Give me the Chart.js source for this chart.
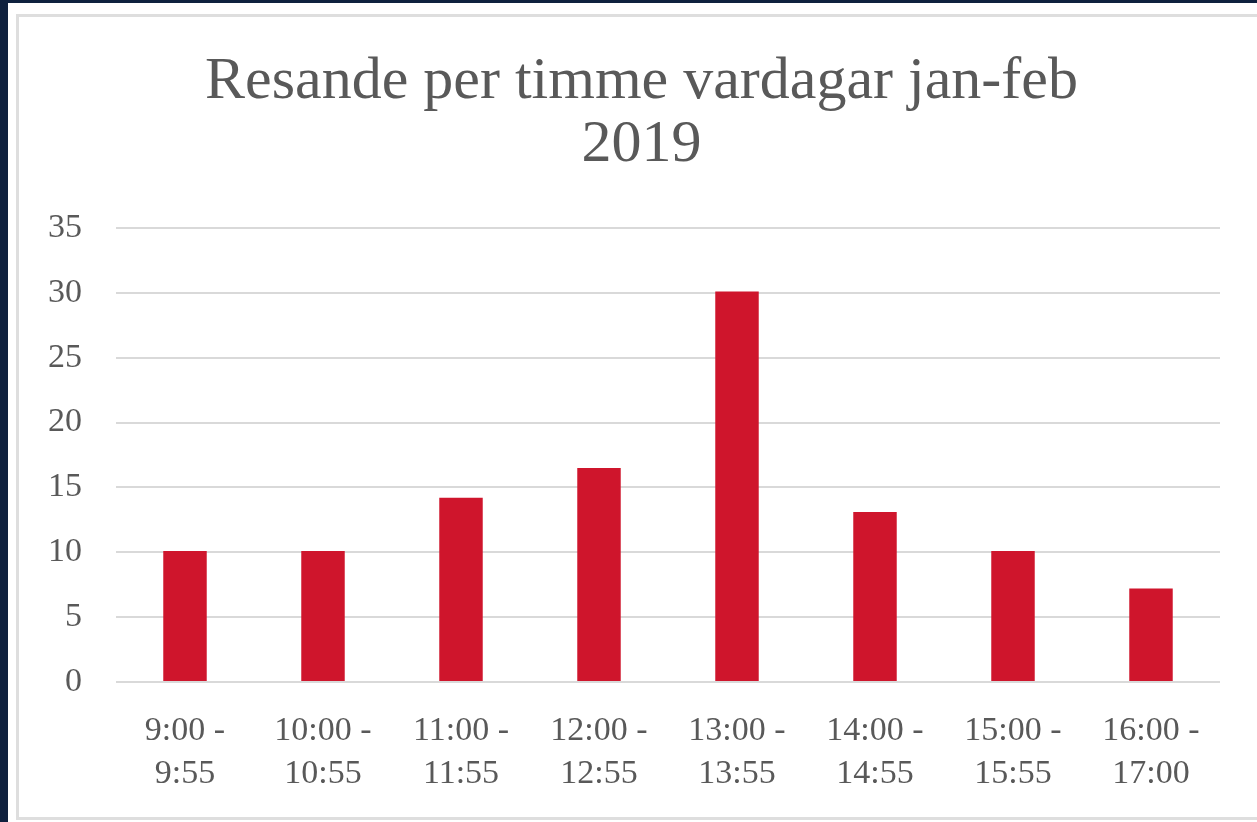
<!DOCTYPE html>
<html>
<head>
<meta charset="utf-8">
<script src="https://cdn.jsdelivr.net/npm/chart.js@4"></script>
<style>
  html, body { margin: 0; padding: 0; width: 1257px; height: 822px; overflow: hidden; background: #0f213e; }
  #sheet { position: absolute; left: 8px; top: 3px; right: 0; bottom: 0; background: #ffffff; }
  #frame { position: absolute; left: 16px; top: 14px; width: 1260px; height: 800px; border: 3px solid #dedede; background: #ffffff; }
  #chart { position: absolute; left: 0; top: 0; }
</style>
</head>
<body>
<div id="sheet"></div>
<div id="frame"></div>
<canvas id="chart" width="1257" height="822"></canvas>
<script>
const titleLines = ["Resande per timme vardagar jan-feb", "2019"];
const timeSlots = [
  ["9:00 -", "9:55"],
  ["10:00 -", "10:55"],
  ["11:00 -", "11:55"],
  ["12:00 -", "12:55"],
  ["13:00 -", "13:55"],
  ["14:00 -", "14:55"],
  ["15:00 -", "15:55"],
  ["16:00 -", "17:00"]
];
const travellers = [10.1, 10.1, 14.2, 16.5, 30.1, 13.1, 10.1, 7.2];
const yMax = 35;
const yStep = 5;

const textColor = "#595959";
const serif = "'Liberation Serif', 'DejaVu Serif', serif";

// centre the title on the frame instead of on the space left of the right padding
const shiftTitle = {
  id: "shiftTitle",
  afterLayout(chart) {
    if (chart.titleBlock) {
      chart.titleBlock.left = 63;
      chart.titleBlock.right = 1220;
    }
  }
};

const ctx = document.getElementById("chart").getContext("2d");

new Chart(ctx, {
  type: "bar",
  data: {
    labels: timeSlots,
    datasets: [
      {
        label: "Resande",
        data: travellers,
        backgroundColor: "#cf152c",
        borderWidth: 0,
        barPercentage: 0.315,
        categoryPercentage: 1.0
      }
    ]
  },
  options: {
    responsive: false,
    animation: false,
    layout: {
      padding: { left: 0, right: 37, top: 0, bottom: 2 }
    },
    plugins: {
      legend: { display: false },
      tooltip: { enabled: false },
      title: {
        display: true,
        text: titleLines,
        color: textColor,
        font: { family: serif, size: 60, weight: "normal", lineHeight: 1.05 },
        padding: { top: 51, bottom: 51 }
      }
    },
    scales: {
      x: {
        afterFit: function (scale) {
          scale.height = 138;
        },
        grid: { display: false, drawTicks: false },
        border: { display: false },
        ticks: {
          color: textColor,
          font: { family: serif, size: 34, lineHeight: 1.26 },
          padding: 28,
          maxRotation: 0,
          autoSkip: false
        }
      },
      y: {
        min: 0,
        max: yMax,
        afterFit: function (scale) {
          scale.width = 116;
        },
        grid: { color: "#d9d9d9", lineWidth: 2, drawTicks: false },
        border: { display: false },
        ticks: {
          stepSize: yStep,
          color: textColor,
          font: { family: serif, size: 34 },
          padding: 34
        }
      }
    }
  },
  plugins: [shiftTitle]
});
</script>
</body>
</html>
